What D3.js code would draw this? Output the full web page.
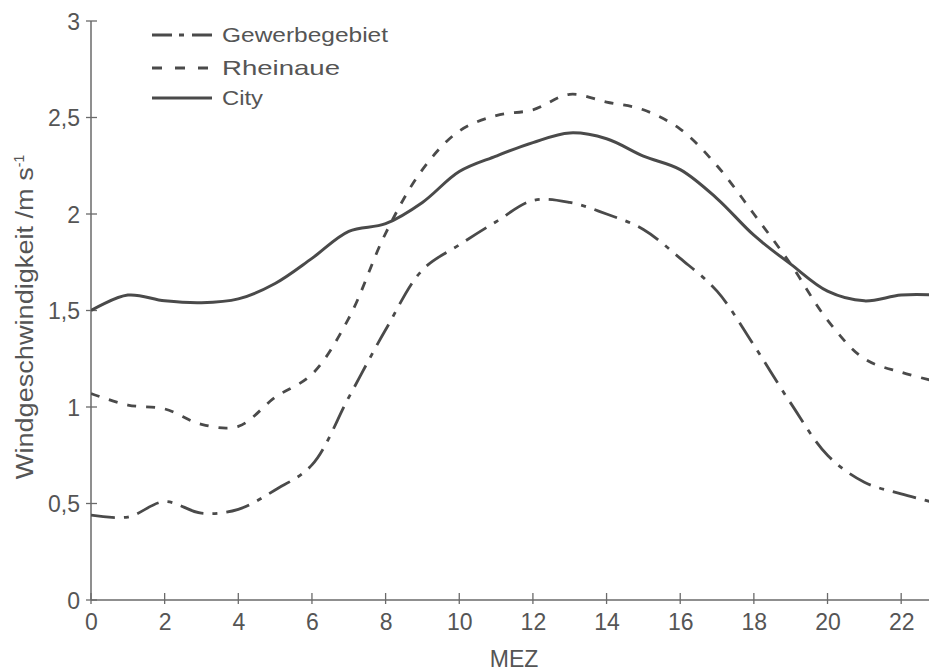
<!DOCTYPE html>
<html>
<head>
<meta charset="utf-8">
<script src="https://cdn.jsdelivr.net/npm/d3@7"></script>
<style>
  body { margin: 0; background: #ffffff; }
  svg { display: block; }
</style>
</head>
<body>
<svg id="chart" width="929" height="671"></svg>
<script>
// hours (MEZ)
var hours = [0,1,2,3,4,5,6,7,8,9,10,11,12,13,14,15,16,17,18,19,20,21,22,23];

var gewerbegebiet = [0.44,0.43,0.51,0.45,0.47,0.57,0.70,1.05,1.40,1.71,1.84,1.96,2.07,2.06,2.00,1.92,1.77,1.60,1.32,1.02,0.75,0.61,0.55,0.50];
var rheinaue      = [1.07,1.01,0.99,0.91,0.90,1.05,1.17,1.46,1.90,2.23,2.43,2.51,2.54,2.62,2.58,2.54,2.44,2.25,2.00,1.74,1.45,1.25,1.18,1.13];
var city          = [1.50,1.58,1.55,1.54,1.56,1.64,1.77,1.91,1.95,2.06,2.22,2.30,2.37,2.42,2.39,2.30,2.23,2.08,1.89,1.74,1.60,1.55,1.58,1.58];

var xTicks = [0,2,4,6,8,10,12,14,16,18,20,22];
var yTicks = [0,0.5,1,1.5,2,2.5,3];

var seriesNames = ['Gewerbegebiet','Rheinaue','City'];
var seriesData = [gewerbegebiet, rheinaue, city];
var dashes = ['24,9,5,9', '9,10', null];
var legDashes = ['20,7,5,8', '10,13', null];
var legLen = [166, 118, 41];
var widths = [2.8, 2.8, 3];

var ink = '#555555';
var font = '"Liberation Sans", Arial, sans-serif';
var svg = d3.select('#chart');

var x = d3.scaleLinear().domain([0,23]).range([91, 938]);
var y = d3.scaleLinear().domain([0,3]).range([600, 21]);

// axes
var yAxis = d3.axisLeft(y).tickValues(yTicks).tickSize(0)
  .tickFormat(function(d){ return String(d).replace('.', ','); });
var xAxis = d3.axisBottom(x).tickValues(xTicks).tickSize(0);

var gy = svg.append('g').attr('transform','translate(91,0)').call(yAxis);
gy.select('.domain').remove();
gy.selectAll('text').attr('x', -11).attr('dy','0.35em');

var gx = svg.append('g').attr('transform','translate(0,600)').call(xAxis);
gx.select('.domain').remove();
gx.selectAll('text').attr('y', 30).attr('dy', 0);

svg.selectAll('.tick text')
  .attr('fill', ink)
  .style('font-family', font)
  .style('font-size','23px');

// axis lines
svg.append('line').attr('x1',91).attr('x2',91).attr('y1',y(3)).attr('y2',y(0))
  .attr('stroke','#6a6a6a').attr('stroke-width',1.5);
svg.append('line').attr('x1',91).attr('x2',929).attr('y1',y(0)).attr('y2',y(0))
  .attr('stroke','#6a6a6a').attr('stroke-width',1.5);

// tick marks crossing the axes
svg.selectAll('.ytk').data(yTicks).enter().append('line')
  .attr('x1',86).attr('x2',97)
  .attr('y1',function(d){ return y(d); }).attr('y2',function(d){ return y(d); })
  .attr('stroke','#6a6a6a').attr('stroke-width',1.3);
svg.selectAll('.xtk').data(xTicks).enter().append('line')
  .attr('x1',function(d){ return x(d); }).attr('x2',function(d){ return x(d); })
  .attr('y1',y(0)-7).attr('y2',y(0)+4)
  .attr('stroke','#6a6a6a').attr('stroke-width',1.3);

// axis titles
svg.append('text')
  .attr('x', 514).attr('y', 667)
  .attr('text-anchor','middle')
  .attr('fill', ink)
  .style('font-family', font)
  .style('font-size','23px')
  .text('MEZ');

var yt = svg.append('text')
  .attr('transform','translate(33,317) rotate(-90)')
  .attr('text-anchor','middle')
  .attr('fill', ink)
  .style('font-family', font)
  .style('font-size','23px');
yt.append('tspan').attr('textLength', 312).attr('lengthAdjust','spacingAndGlyphs')
  .text('Windgeschwindigkeit /m s');
yt.append('tspan').attr('dy',-9).style('font-size','14px').text('-1');

// lines
svg.append('clipPath').attr('id','plotclip')
  .append('rect').attr('x',91).attr('y',0).attr('width',838).attr('height',600);

var line = d3.line()
  .x(function(d){ return x(d[0]); })
  .y(function(d){ return y(d[1]); })
  .curve(d3.curveCatmullRom.alpha(0.5));

seriesData.forEach(function(vals, i){
  var pts = hours.map(function(h, j){ return [h, vals[j]]; });
  svg.append('path')
    .datum(pts)
    .attr('d', line)
    .attr('fill','none')
    .attr('stroke', '#4a4a4a')
    .attr('stroke-width', widths[i])
    .attr('stroke-dasharray', dashes[i])
    .attr('clip-path','url(#plotclip)');
});

// legend
var legY = [35, 68, 98];
seriesNames.forEach(function(name, i){
  svg.append('line')
    .attr('x1',152).attr('x2',212)
    .attr('y1',legY[i]).attr('y2',legY[i])
    .attr('stroke','#4a4a4a')
    .attr('stroke-width', widths[i])
    .attr('stroke-dasharray', legDashes[i]);
  svg.append('text')
    .attr('x',222).attr('y',legY[i])
    .attr('dy','0.35em')
    .attr('fill', ink)
    .attr('textLength', legLen[i])
    .attr('lengthAdjust','spacingAndGlyphs')
    .style('font-family', font)
    .style('font-size','21px')
    .text(name);
});
</script>
</body>
</html>
